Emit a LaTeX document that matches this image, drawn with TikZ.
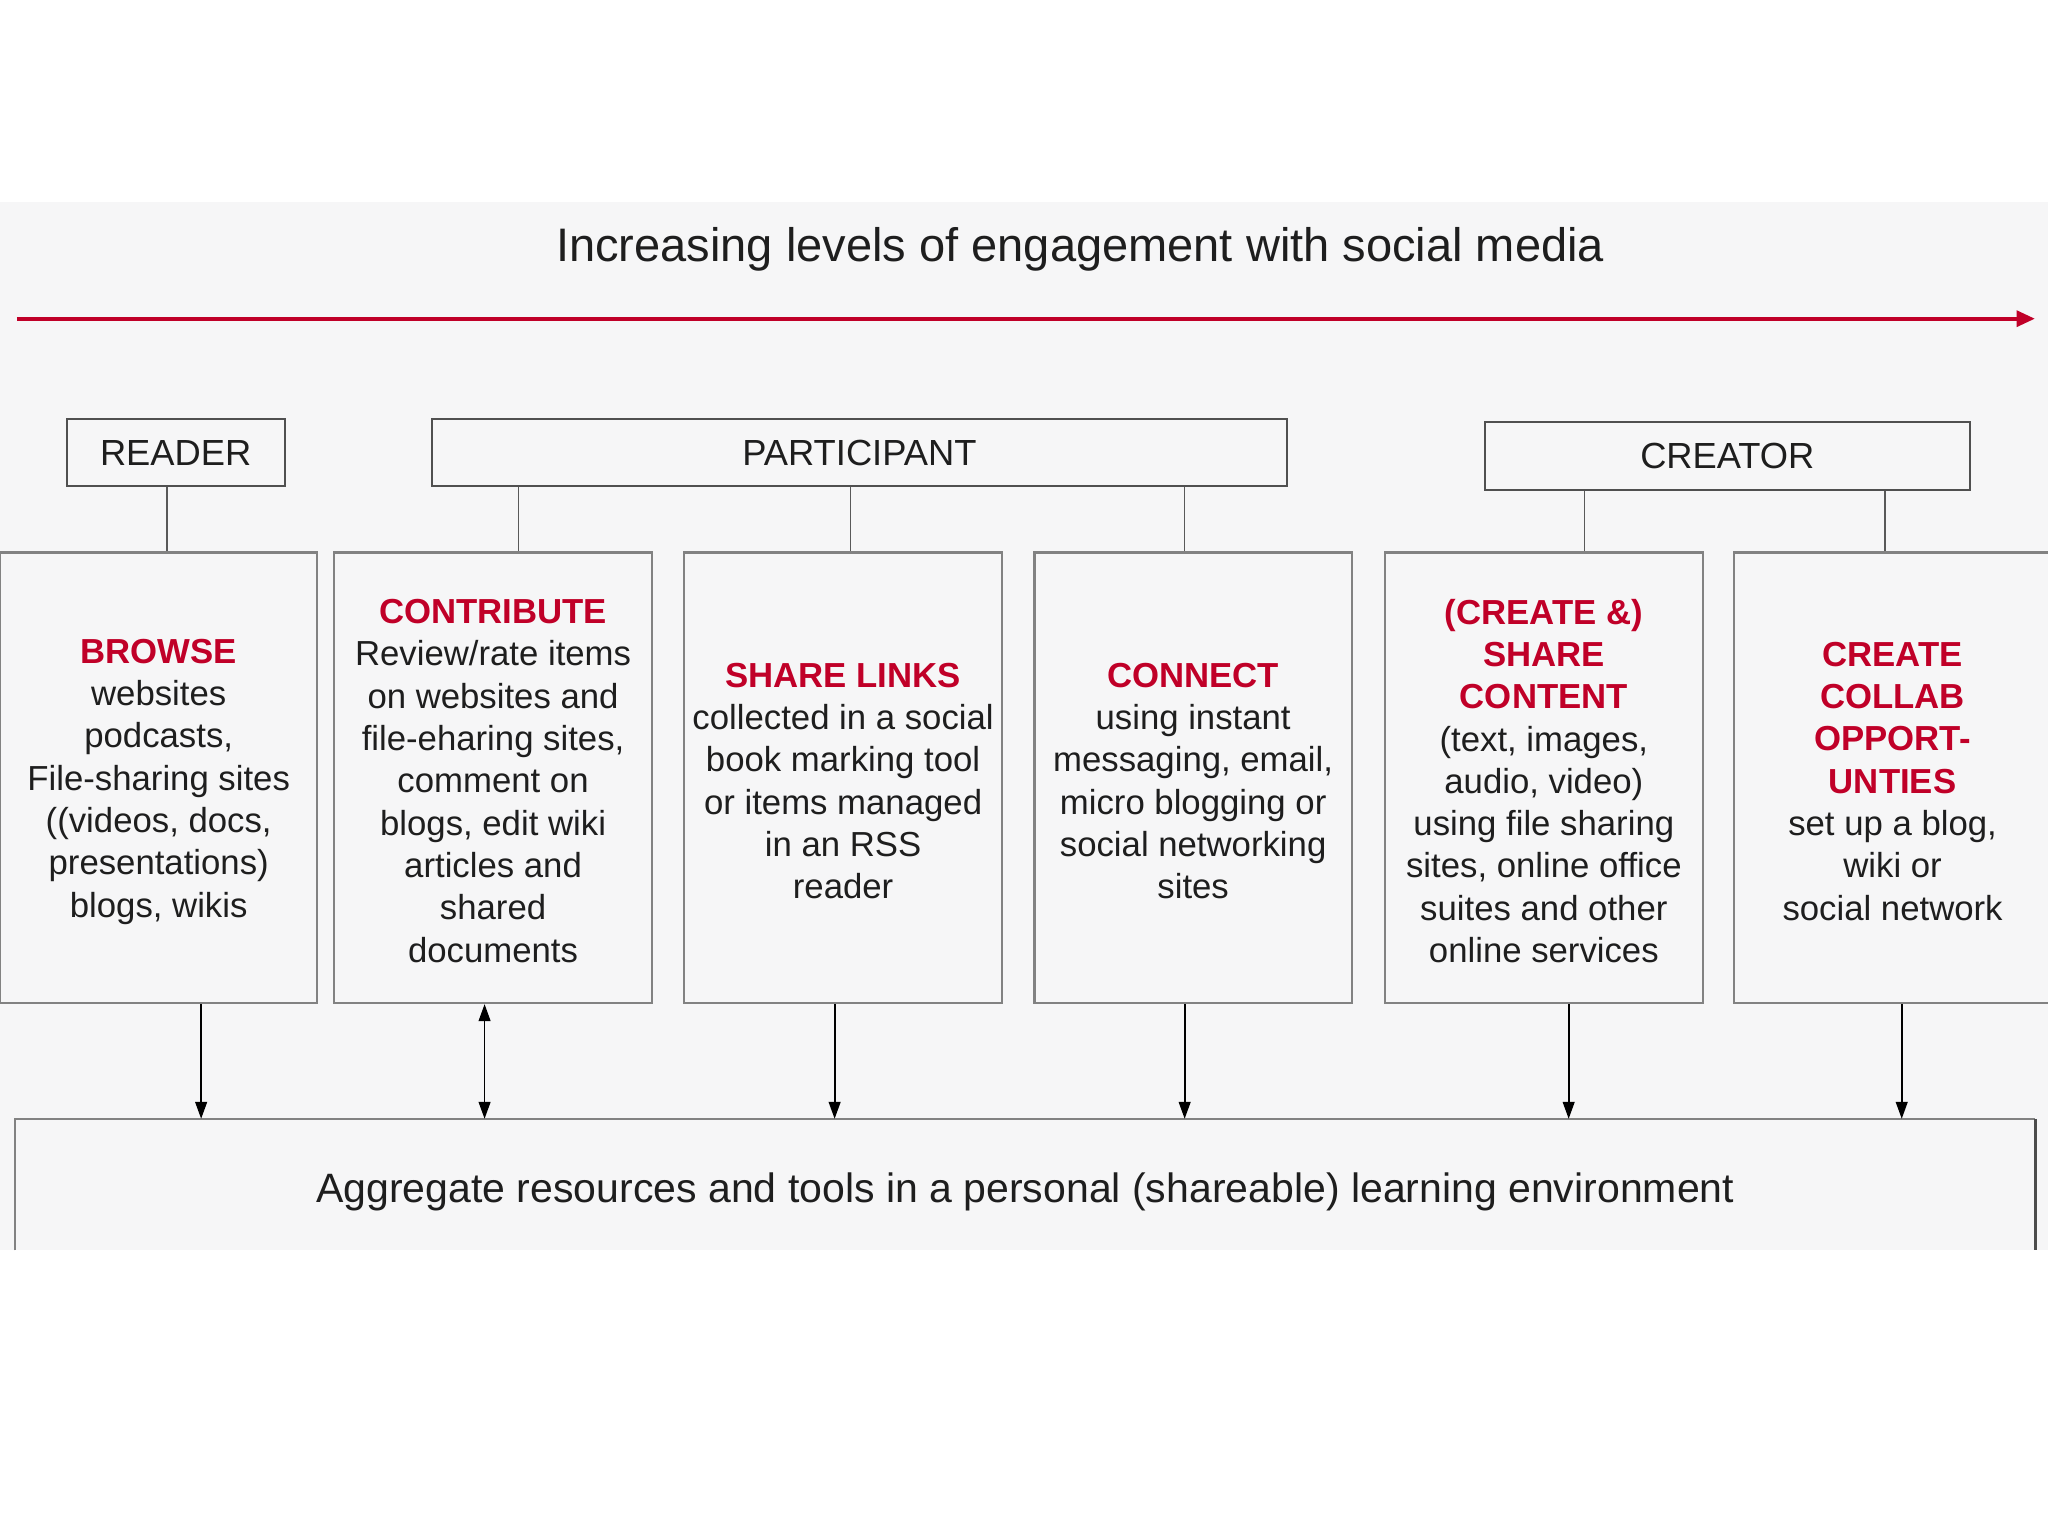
\documentclass[tikz,border=0pt]{standalone}
\usepackage{fontspec}
\setmainfont{Liberation Sans}
\usetikzlibrary{arrows.meta}
\definecolor{band}{RGB}{246,246,247}
\definecolor{redline}{RGB}{192,0,40}
\definecolor{boxline}{RGB}{130,130,130}
\definecolor{lblline}{RGB}{80,80,80}
\definecolor{txt}{RGB}{30,30,30}
\newcommand\headred[1]{\textcolor{redline}{\textbf{#1}}}
\begin{document}
\begin{tikzpicture}[x=0.5pt,y=-0.5pt,
  lvl/.style={draw=lblline, line width=0.8pt, minimum height=25.5pt, inner sep=0pt, text=txt,
    font=\fontsize{13.9}{16}\selectfont},
  act/.style={draw=boxline, line width=0.8pt, minimum width=121.5pt, minimum height=172.5pt,
    inner sep=0pt},
  body/.style={inner sep=0pt, align=center, text=txt, font=\fontsize{13.3}{16.2}\selectfont},
  tie/.style={draw=black!65, line width=0.6pt},
  dn/.style={draw=black, line width=0.7pt, -{Triangle[length=6.5pt,width=4.5pt]}},
  dbl/.style={draw=black, line width=0.7pt, {Triangle[length=6.5pt,width=4.5pt]}-{Triangle[length=6.5pt,width=4.5pt]}},
]
\useasboundingbox (0,0) rectangle (1568,1176);
\fill[white] (0,0) rectangle (1568,1176);
\fill[band] (0,155) rectangle (1568,957);

% title and red arrow
\node[text=txt, font=\fontsize{18}{20}\selectfont] (title) at (827,191) {Increasing levels of engagement with social media};
\coordinate (r0) at (13,244);
\coordinate (r1) at (1558,244);
\draw[redline, line width=1.5pt, -{Triangle[length=7pt,width=6pt]}] (r0) -- (r1);

% level boxes
\node[lvl, minimum width=83.5pt] (reader) at (134.5,346.5) {READER};
\node[lvl, minimum width=327pt] (part) at (658,346.5) {PARTICIPANT};
\node[lvl, minimum width=185.5pt, minimum height=26pt] (creator) at (1322.5,349) {CREATOR};

% activity boxes
\node[act] (b1) at (121.5,595.5) {};
\node[act] (b2) at (377.5,595.5) {};
\node[act] (b3) at (645.5,595.5) {};
\node[act] (b4) at (913.5,595.5) {};
\node[act] (b5) at (1182,595.5) {};
\node[act] (b6) at (1449,595.5) {};
\node[body] (t1) at ([yshift=-1.5pt]b1.center) {\headred{BROWSE}\\websites\\podcasts,\\File-sharing sites\\((videos, docs,\\presentations)\\blogs, wikis};
\node[body] (t2) at ([yshift=-1.2pt]b2.center) {\headred{CONTRIBUTE}\\Review/rate items\\on websites and\\file-eharing sites,\\comment on\\blogs, edit wiki\\articles and\\shared\\documents};
\node[body] (t3) at ([yshift=-1.3pt]b3.center) {\headred{SHARE LINKS}\\collected in a social\\book marking tool\\or items managed\\in an RSS\\reader};
\node[body] (t4) at ([yshift=-1.3pt]b4.center) {\headred{CONNECT}\\using instant\\messaging, email,\\micro blogging or\\social networking\\sites};
\node[body] (t5) at ([yshift=-1.2pt]b5.center) {\headred{(CREATE \&)}\\\headred{SHARE}\\\headred{CONTENT}\\(text, images,\\audio, video)\\using file sharing\\sites, online office\\suites and other\\online services};
\node[body] (t6) at ([yshift=-1.3pt]b6.center) {\headred{CREATE}\\\headred{COLLAB}\\\headred{OPPORT-}\\\headred{UNTIES}\\set up a blog,\\wiki or\\social network};

% aggregate box (open at the bottom)
\node[minimum width=773pt, minimum height=50pt, inner sep=0pt] (agg) at (785,907) {};
\node[text=txt, inner sep=0pt, font=\fontsize{15.7}{18}\selectfont] (aggtext) at ([yshift=-2.8pt]agg.center)
  {Aggregate resources and tools in a personal (shareable) learning environment};
\draw[boxline, line width=0.8pt] (agg.south west) -- (agg.north west) -- (agg.north east);
\draw[black!70, line width=0.8pt] (agg.north east) -- (agg.south east);

% x positions of connectors
\coordinate (cR) at (128,0);
\coordinate (cP1) at (397,0);
\coordinate (cP2) at (651,0);
\coordinate (cP3) at (907,0);
\coordinate (cC1) at (1213,0);
\coordinate (cC2) at (1443,0);
\coordinate (a1) at (154,0);
\coordinate (a2) at (371,0);
\coordinate (a3) at (639,0);
\coordinate (a4) at (907,0);
\coordinate (a5) at (1201,0);
\coordinate (a6) at (1456,0);

% level connectors
\draw[tie] (reader.south -| cR) -- (b1.north -| cR);
\draw[tie] (part.south -| cP1) -- (b2.north -| cP1);
\draw[tie] (part.south -| cP2) -- (b3.north -| cP2);
\draw[tie] (part.south -| cP3) -- (b4.north -| cP3);
\draw[tie] (creator.south -| cC1) -- (b5.north -| cC1);
\draw[tie] (creator.south -| cC2) -- (b6.north -| cC2);

% arrows to aggregate
\draw[dn] (b1.south -| a1) -- (agg.north -| a1);
\draw[dbl] (b2.south -| a2) -- (agg.north -| a2);
\draw[dn] (b3.south -| a3) -- (agg.north -| a3);
\draw[dn] (b4.south -| a4) -- (agg.north -| a4);
\draw[dn] (b5.south -| a5) -- (agg.north -| a5);
\draw[dn] (b6.south -| a6) -- (agg.north -| a6);
\end{tikzpicture}
\end{document}
